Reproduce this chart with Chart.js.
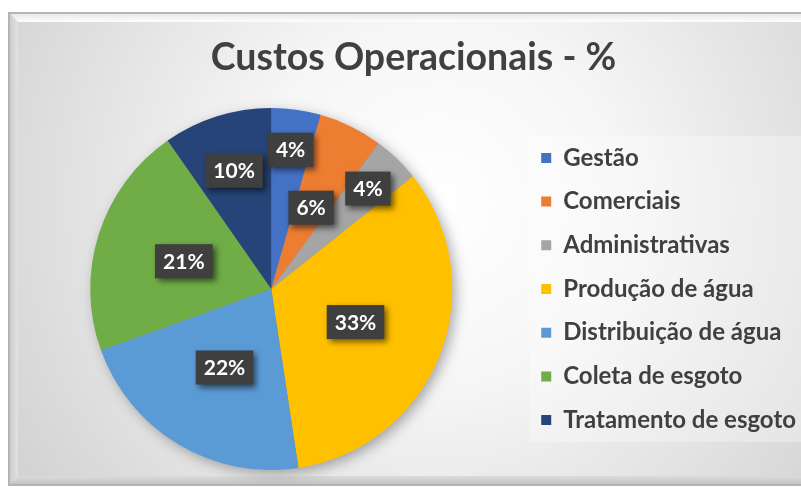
<!DOCTYPE html>
<html>
<head>
<meta charset="utf-8">
<script src="https://cdn.jsdelivr.net/npm/chart.js@4.4.1/dist/chart.umd.min.js"></script>
<style>
  body { margin: 0; background: #fff; overflow: hidden; }
  #box { position: absolute; left: 8px; top: 12px; width: 806px; height: 474px; }
</style>
</head>
<body>
<div id="box"><canvas id="pie" width="806" height="474"></canvas></div>
<script>
const categories = ["Gestão", "Comerciais", "Administrativas", "Produção de água",
  "Distribuição de água", "Coleta de esgoto", "Tratamento de esgoto"];
const shares = [4.4, 5.7, 4.2, 33.3, 21.9, 20.8, 9.7];
const sliceColors = ["#4472C4", "#ED7D31", "#A5A5A5", "#FFC000", "#5B9BD5", "#70AD47", "#264478"];

// how far out each label sits, as a fraction of the radius
const labelDepth = [0.777, 0.5, 0.77, 0.5, 0.505, 0.507, 0.685];

const canvas = document.getElementById("pie");

// background, bevel frame and legend panel
const frame = {
  id: "frame",
  beforeDraw(chart) {
    const ctx = chart.ctx, W = chart.width, H = chart.height;
    ctx.save();
    const g = ctx.createRadialGradient(430, 190, 0, 430, 190, 520);
    g.addColorStop(0, "#ffffff");
    g.addColorStop(0.35, "#f6f6f6");
    g.addColorStop(1, "#d0d0d0");
    ctx.fillStyle = g;
    ctx.fillRect(0, 0, W, H);

    const b = 10;
    let t = ctx.createLinearGradient(0, 0, 0, b);
    t.addColorStop(0, "#e4e4e4");
    t.addColorStop(1, "#fdfdfd");
    ctx.fillStyle = t;
    ctx.beginPath();
    ctx.moveTo(0, 0); ctx.lineTo(W, 0); ctx.lineTo(W - b, b); ctx.lineTo(b, b); ctx.closePath();
    ctx.fill();

    t = ctx.createLinearGradient(0, 0, b, 0);
    t.addColorStop(0, "#c9c9c9");
    t.addColorStop(1, "#e2e2e2");
    ctx.fillStyle = t;
    ctx.beginPath();
    ctx.moveTo(0, 0); ctx.lineTo(b, b); ctx.lineTo(b, H - b); ctx.lineTo(0, H); ctx.closePath();
    ctx.fill();

    t = ctx.createLinearGradient(0, H - b, 0, H);
    t.addColorStop(0, "#dcdcdc");
    t.addColorStop(1, "#bdbdbd");
    ctx.fillStyle = t;
    ctx.beginPath();
    ctx.moveTo(0, H); ctx.lineTo(b, H - b); ctx.lineTo(W - b, H - b); ctx.lineTo(W, H); ctx.closePath();
    ctx.fill();

    ctx.strokeStyle = "#b4b4b4";
    ctx.lineWidth = 2;
    ctx.strokeRect(1, 1, W - 2, H - 2);

    const lg = chart.legend;
    if (lg && lg.legendHitBoxes.length) {
      const first = lg.legendHitBoxes[0];
      const last = lg.legendHitBoxes[lg.legendHitBoxes.length - 1];
      ctx.fillStyle = "rgba(255,255,255,0.3)";
      ctx.fillRect(first.left - 12, first.top - 10, W - first.left + 12, last.top + last.height - first.top + 20);
    }
    ctx.restore();
  },
  beforeDatasetsDraw(chart) {
    const arc = chart.getDatasetMeta(0).data[0];
    if (!arc) return;
    const ctx = chart.ctx;
    ctx.save();
    ctx.shadowColor = "rgba(0,0,0,0.35)";
    ctx.shadowBlur = 14;
    ctx.shadowOffsetX = 4;
    ctx.shadowOffsetY = 4;
    ctx.fillStyle = "#888";
    ctx.beginPath();
    ctx.arc(arc.x, arc.y, arc.outerRadius - 1, 0, Math.PI * 2);
    ctx.fill();
    ctx.restore();
  }
};

// dark boxed percentage labels
const boxedLabels = {
  id: "boxedLabels",
  afterDatasetsDraw(chart) {
    const ctx = chart.ctx;
    const meta = chart.getDatasetMeta(0);
    ctx.save();
    ctx.font = "bold 21px Lato";
    ctx.textAlign = "center";
    ctx.textBaseline = "middle";
    meta.data.forEach((arc, i) => {
      const p = arc.getProps(["x", "y", "startAngle", "endAngle", "outerRadius"], true);
      const mid = (p.startAngle + p.endAngle) / 2;
      const r = p.outerRadius * labelDepth[i];
      const cx = p.x + Math.cos(mid) * r;
      const cy = p.y + Math.sin(mid) * r;
      const txt = Math.round(shares[i]) + "%";
      const w = ctx.measureText(txt).width + 16;
      const h = 34;
      ctx.save();
      ctx.shadowColor = "rgba(0,0,0,0.55)";
      ctx.shadowBlur = 6;
      ctx.shadowOffsetX = 3;
      ctx.shadowOffsetY = 3;
      ctx.fillStyle = "#3f3f3f";
      ctx.fillRect(cx - w / 2, cy - h / 2, w, h);
      ctx.restore();
      ctx.fillStyle = "#ffffff";
      ctx.fillText(txt, cx, cy + 1);
    });
    ctx.restore();
  }
};

new Chart(canvas, {
  type: "pie",
  plugins: [frame, boxedLabels],
  data: {
    labels: categories,
    datasets: [{
      data: shares,
      backgroundColor: sliceColors,
      borderWidth: 0,
      hoverOffset: 0,
      offset: 0
    }]
  },
  options: {
    responsive: false,
    animation: false,
    layout: { padding: { left: 13, right: 8, top: 0, bottom: 16 } },
    plugins: {
      tooltip: { enabled: false },
      title: {
        display: true,
        text: "Custos Operacionais - %",
        color: "#404040",
        font: { family: "Lato", size: 37.5, weight: "bold", lineHeight: 1.2 },
        padding: { top: 23.5, bottom: 27.5 }
      },
      legend: {
        position: "right",
        fullSize: false,
        labels: {
          color: "#404040",
          font: { family: "Lato", size: 24, weight: "bold", lineHeight: 1.2 },
          boxWidth: 10,
          boxHeight: 10,
          padding: 19.7
        }
      }
    }
  }
});
</script>
</body>
</html>
